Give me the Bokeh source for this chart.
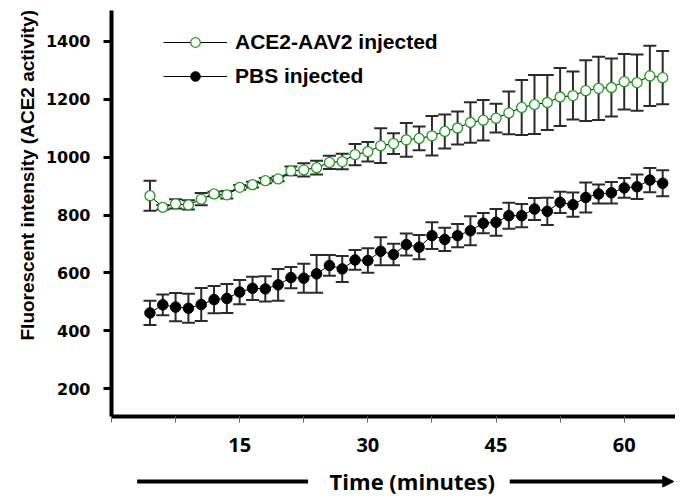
import numpy as np
from bokeh.plotting import figure
from bokeh.layouts import column
from bokeh.models import (ColumnDataSource, Whisker, TeeHead, FixedTicker, Label,
                          Arrow, NormalHead, Legend, LegendItem, Range1d, Title)
from bokeh.embed import file_html
from bokeh.resources import INLINE

# ---- data ----
time_min = [4.5, 6.0, 7.5, 9.0, 10.5, 12.0, 13.5, 15.0, 16.5, 18.0,
            19.5, 21.0, 22.5, 24.0, 25.5, 27.0, 28.5, 30.0, 31.5, 33.0,
            34.5, 36.0, 37.5, 39.0, 40.5, 42.0, 43.5, 45.0, 46.5, 48.0,
            49.5, 51.0, 52.5, 54.0, 55.5, 57.0, 58.5, 60.0, 61.5, 63.0, 64.5]

ace2_mean = [867, 827, 839, 835, 855, 873, 870, 896, 905, 919,
             925, 953, 956, 964, 982, 985, 1009, 1019, 1040, 1047,
             1060, 1065, 1074, 1089, 1101, 1120, 1128, 1135, 1153, 1172,
             1182, 1189, 1208, 1213, 1230, 1238, 1241, 1261, 1258, 1281, 1275]
ace2_err = [52, 8, 16, 16, 21, 8, 13, 8, 10, 9,
            8, 15, 23, 24, 23, 27, 37, 34, 60, 36,
            58, 41, 68, 59, 57, 70, 70, 50, 74, 95,
            102, 95, 100, 83, 105, 109, 100, 96, 97, 104, 92]

pbs_mean = [462, 490, 482, 478, 491, 508, 512, 534, 547, 545,
            559, 584, 582, 597, 626, 614, 645, 643, 675, 664,
            698, 689, 729, 716, 729, 746, 772, 775, 798, 798,
            821, 813, 844, 836, 861, 873, 877, 894, 898, 921, 910]
pbs_err = [42, 36, 49, 50, 57, 47, 50, 42, 40, 44,
           55, 37, 50, 65, 36, 45, 34, 42, 48, 37,
           38, 42, 46, 40, 40, 50, 35, 46, 45, 40,
           38, 47, 37, 42, 52, 33, 37, 34, 42, 42, 45]

y_ticks = [200, 400, 600, 800, 1000, 1200, 1400]
x_major_ticks = [15, 30, 45, 60]
x_minor_ticks = [0, 7.5, 22.5, 37.5, 52.5]

series_labels = ["ACE2-AAV2 injected", "PBS injected"]
y_title = "Fluorescent intensity (ACE2 activity)"
x_title = "Time (minutes)"

GREEN = "#1f9a1f"
BAR = "#2b2b2b"

t = np.array(time_min)
a_m, a_e = np.array(ace2_mean), np.array(ace2_err)
b_m, b_e = np.array(pbs_mean), np.array(pbs_err)

src_a = ColumnDataSource(dict(x=t, y=a_m, upper=a_m + a_e, lower=a_m - a_e))
src_b = ColumnDataSource(dict(x=t, y=b_m, upper=b_m + b_e, lower=b_m - b_e))

W = 675
H_MAIN = 456
H_STRIP = 38
X_END = 66.0

p = figure(width=W, height=H_MAIN, output_backend="svg", toolbar_location=None,
           x_range=Range1d(0, X_END), y_range=Range1d(104, 1507),
           min_border_left=111, min_border_right=0, min_border_top=10,
           min_border_bottom=40)
p.outline_line_color = None
p.grid.visible = False

# error bars (drawn beneath markers)
for src in (src_a, src_b):
    w = Whisker(source=src, base="x", upper="upper", lower="lower",
                line_color=BAR, line_width=2, level="underlay",
                upper_head=TeeHead(size=13, line_color=BAR, line_width=2),
                lower_head=TeeHead(size=13, line_color=BAR, line_width=2))
    p.add_layout(w)

l_b = p.line("x", "y", source=src_b, line_color="black", line_width=1)
s_b = p.scatter("x", "y", source=src_b, marker="circle", size=10.5,
                fill_color="black", line_color="black")
l_a = p.line("x", "y", source=src_a, line_color="black", line_width=1)
s_a = p.scatter("x", "y", source=src_a, marker="circle", size=10,
                fill_color="white", line_color=GREEN, line_width=1.3)

# axes
xa = p.xaxis[0]
xa.ticker = FixedTicker(ticks=x_major_ticks, minor_ticks=x_minor_ticks)
xa.axis_line_width = 4
xa.axis_line_color = "black"
xa.major_tick_in = 0
xa.major_tick_out = 6
xa.minor_tick_in = 0
xa.minor_tick_out = 6
xa.major_tick_line_color = "#666666"
xa.minor_tick_line_color = "#666666"
xa.major_tick_line_width = 1
xa.minor_tick_line_width = 1
xa.major_label_text_font = "Open Sans"
xa.major_label_text_font_style = "bold"
xa.major_label_text_font_size = "20px"
xa.major_label_text_color = "black"
xa.major_label_standoff = 15

ya = p.yaxis[0]
ya.ticker = FixedTicker(ticks=y_ticks)
ya.axis_line_width = 4
ya.axis_line_color = "black"
ya.major_tick_in = 0
ya.major_tick_out = 8
ya.major_tick_line_width = 3
ya.major_tick_line_color = "black"
ya.minor_tick_line_color = None
ya.major_label_text_font = "DejaVu Sans"
ya.major_label_text_font_style = "bold"
ya.major_label_text_font_size = "16px"
ya.major_label_text_color = "black"
ya.major_label_standoff = 13

# y axis title in the left side panel, anchored so it sits high like the reference
p.add_layout(Title(text=y_title, align="left", offset=76,
                   text_font="Liberation Sans", text_font_style="bold",
                   text_font_size="19px", text_color="black", standoff=10), "left")

legend = Legend(items=[LegendItem(label=series_labels[0], renderers=[l_a, s_a]),
                       LegendItem(label=series_labels[1], renderers=[l_b, s_b])],
                location=(52, 328), glyph_width=64, glyph_height=24,
                label_height=24, spacing=10, padding=0, margin=0,
                border_line_color=None, background_fill_alpha=0,
                label_text_font="Liberation Sans", label_text_font_style="bold",
                label_text_font_size="21px", label_text_color="black",
                label_standoff=8)
p.add_layout(legend)

# strip below: x title between two arrow lines (same x scale as the chart)
p2 = figure(width=W, height=H_STRIP, output_backend="svg", toolbar_location=None,
            x_range=Range1d(0, X_END), y_range=Range1d(H_STRIP, 0),
            min_border_left=111, min_border_right=0, min_border_top=0,
            min_border_bottom=0, x_axis_location=None, y_axis_location=None)
p2.outline_line_color = None
p2.grid.visible = False
ARROW_Y = 25
p2.add_layout(Label(x=35.2, y=ARROW_Y - 1, text=x_title,
                    text_align="center", text_baseline="middle",
                    text_font="Open Sans", text_font_style="bold",
                    text_font_size="22px", text_color="black"))
p2.add_layout(Arrow(end=None, x_start=3.0, y_start=ARROW_Y, x_end=23.0, y_end=ARROW_Y,
                    line_width=4, line_color="black"))
p2.add_layout(Arrow(end=NormalHead(size=11, fill_color="black", line_color="black", line_width=1),
                    x_start=46.6, y_start=ARROW_Y, x_end=65.8, y_end=ARROW_Y,
                    line_width=4, line_color="black"))

layout = column(p, p2, spacing=0)
open("out.html", "w").write(file_html(layout, INLINE))
